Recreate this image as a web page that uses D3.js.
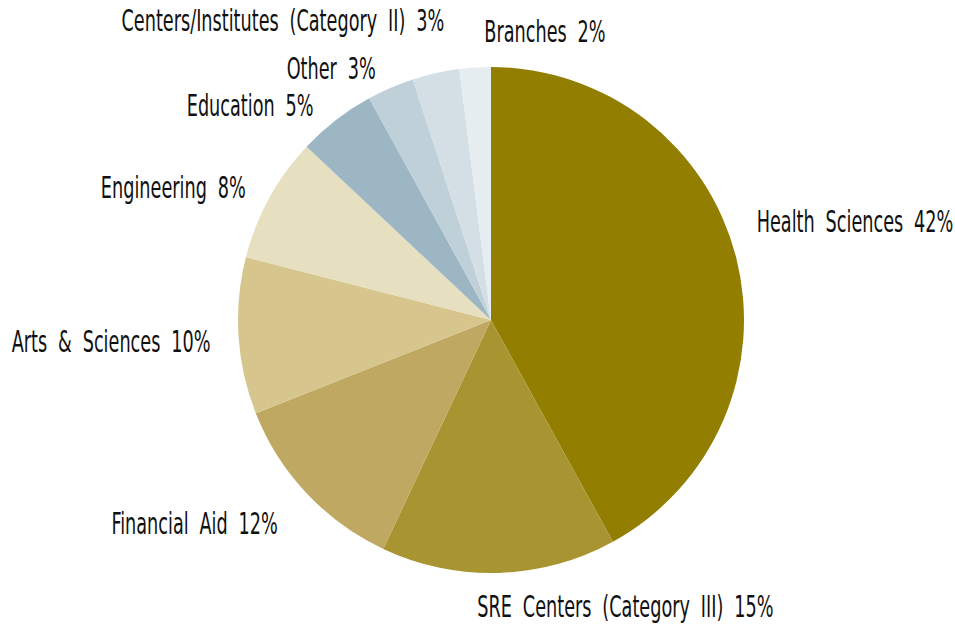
<!DOCTYPE html>
<html><head><meta charset="utf-8">
<script src="https://cdn.jsdelivr.net/npm/d3@7"></script>
<style>
html,body{margin:0;padding:0;background:#fff;}
text{font-family:"Liberation Sans Narrow","DejaVu Sans Condensed","Arial Narrow",sans-serif;fill:#111;}
</style></head>
<body><svg id="chart" width="955" height="627"></svg>
<script>
const categories = ["Health Sciences","SRE Centers (Category III)","Financial Aid","Arts & Sciences","Engineering","Education","Other","Centers/Institutes (Category II)","Branches"];
const values = [42,15,12,10,8,5,3,3,2];
const colors = ["#927E00","#A89431","#BFA962","#D6C58D","#E6DFC0","#9CB6C3","#C0D0D9","#D4DFE5","#E6EDF1"];
const labelAnchors = ["start","start","end","end","end","end","end","end","start"];
const labelOffsets = [[9,-33],[-22,21],[-20,22],[-16,5],[-13,-5],[-15,-5],[-10,-9],[11,-41],[10,-24]];

const svg = d3.select("#chart");
const cx = 491, cy = 320, r = 253, rl = 265;
const g = svg.append("g").attr("transform",`translate(${cx},${cy})`);
const pie = d3.pie().sort(null).value(d=>d);
const arcs = pie(values);
const arc = d3.arc().innerRadius(0).outerRadius(r);
g.selectAll("path").data(arcs).join("path")
  .attr("d",arc).attr("fill",(d,i)=>colors[i]);

const sx = 0.655;
arcs.forEach((d,i)=>{
  const a = (d.startAngle+d.endAngle)/2;
  const x = rl*Math.sin(a)+labelOffsets[i][0];
  const y = -rl*Math.cos(a)+labelOffsets[i][1];
  g.append("text")
    .attr("transform",`translate(${x},${y}) scale(${sx},1)`)
    .attr("text-anchor",labelAnchors[i])
    .attr("dy","0.36em")
    .style("font-size","30px")
    .style("word-spacing","8px")
    .text(`${categories[i]} ${values[i]}%`);
});
</script></body></html>
